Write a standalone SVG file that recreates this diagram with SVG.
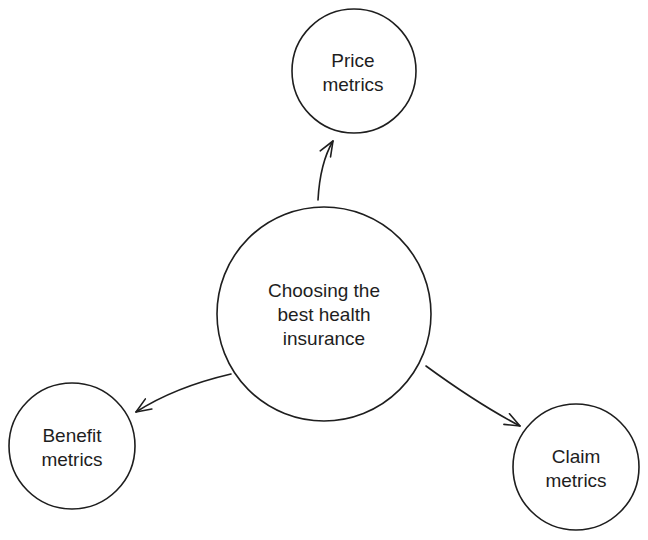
<svg xmlns="http://www.w3.org/2000/svg" width="648" height="540" viewBox="0 0 648 540">
<defs>
<style>
.node{fill:#ffffff;stroke:#1e1e1e;stroke-width:1.6}
.lbl{font-family:"Liberation Sans","Open Sans",sans-serif;font-size:19px;fill:#1e1e1e;text-anchor:middle}
.edge{fill:none;stroke:#1e1e1e;stroke-width:1.6;stroke-linecap:round}
</style>
<marker id="arr" viewBox="-16 -8 18 16" markerWidth="18" markerHeight="16" refX="0" refY="0" orient="auto" markerUnits="userSpaceOnUse">
<path d="M-15,-6 L0,0 L-15,6" fill="none" stroke="#1e1e1e" stroke-width="1.6" stroke-linecap="round" stroke-linejoin="round"/>
</marker>
</defs>
<rect width="648" height="540" fill="#ffffff"/>
<g id="connectors">
<path class="edge" d="M318,200 Q320,163 333,141" marker-end="url(#arr)"/>
<path class="edge" d="M231,374 Q175,387 136,412" marker-end="url(#arr)"/>
<path class="edge" d="M426,366 Q478,404 520,426" marker-end="url(#arr)"/>
</g>
<g id="center">
<circle class="node" cx="324" cy="314" r="107"/>
<text class="lbl" x="324" y="297">Choosing the</text>
<text class="lbl" x="324" y="321">best health</text>
<text class="lbl" x="324" y="345">insurance</text>
</g>
<g id="price">
<circle class="node" cx="354" cy="71" r="62"/>
<text class="lbl" x="353" y="67">Price</text>
<text class="lbl" x="353" y="91">metrics</text>
</g>
<g id="benefit">
<circle class="node" cx="72" cy="446" r="63"/>
<text class="lbl" x="72" y="442">Benefit</text>
<text class="lbl" x="72" y="466">metrics</text>
</g>
<g id="claim">
<circle class="node" cx="576" cy="467" r="63"/>
<text class="lbl" x="576" y="463">Claim</text>
<text class="lbl" x="576" y="487">metrics</text>
</g>
</svg>
